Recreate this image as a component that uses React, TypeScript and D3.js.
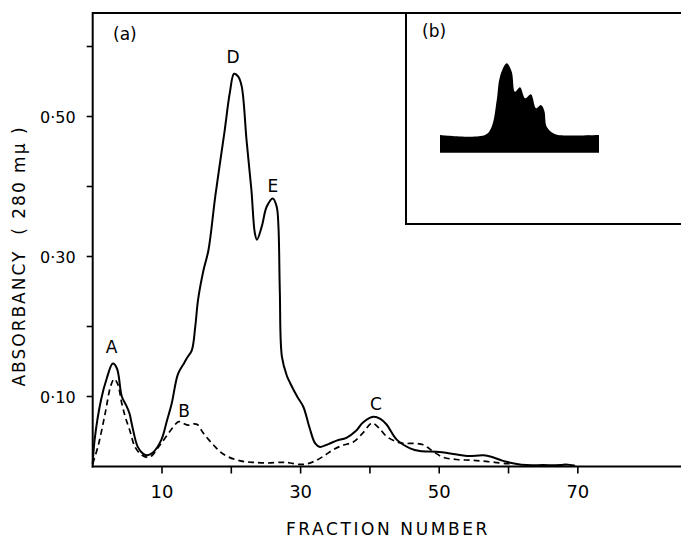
import React from 'react';
import * as d3 from 'd3';

// Main chart: fraction number vs absorbance (280 mμ)
const solidFraction = [0, 0.3, 1.2, 2.0, 2.9, 3.5, 4.2, 4.8, 5.3, 5.7, 6.5, 7.3, 7.9, 8.7, 9.9, 10.7, 11.4, 12.3, 13.2, 13.6, 14.3, 14.8, 15.2, 16.0, 16.7, 17.7, 19.0, 19.8, 20.4, 21.0, 21.5, 22.2, 22.9, 23.4, 23.7, 24.4, 25.1, 26.0, 26.55, 26.8, 27.0, 27.3, 28.0, 28.5, 29.5, 30.4, 31.3, 32.1, 32.8, 34.0, 35.2, 36.6, 38.0, 39.0, 40.5, 41.5, 42.4, 43.9, 45.8, 47.2, 49.6, 52.0, 54.0, 56.4, 57.5, 59.2, 61.0, 62.6, 65.0, 67.5, 68.3, 69.6];
const solidAbsorbance = [0.003, 0.04, 0.095, 0.125, 0.147, 0.14, 0.10, 0.088, 0.076, 0.058, 0.028, 0.018, 0.016, 0.02, 0.038, 0.065, 0.09, 0.132, 0.148, 0.155, 0.166, 0.2, 0.238, 0.281, 0.309, 0.387, 0.477, 0.535, 0.561, 0.557, 0.543, 0.466, 0.395, 0.333, 0.324, 0.343, 0.371, 0.383, 0.371, 0.343, 0.25, 0.157, 0.13, 0.119, 0.1, 0.085, 0.055, 0.033, 0.028, 0.032, 0.037, 0.041, 0.051, 0.063, 0.071, 0.068, 0.06, 0.038, 0.026, 0.022, 0.021, 0.018, 0.015, 0.016, 0.014, 0.008, 0.004, 0.002, 0.002, 0.002, 0.003, 0.001];

const dashedFraction = [0, 0.8, 1.8, 2.6, 3.1, 3.6, 4.2, 4.7, 5.4, 6.1, 7.0, 8.0, 8.6, 9.5, 10.4, 11.5, 12.4, 13.0, 13.8, 14.6, 15.1, 15.8, 16.5, 17.5, 18.4, 19.5, 21.3, 23.0, 25.1, 27.5, 28.5, 29.9, 31.0, 32.3, 33.5, 34.7, 36.0, 37.6, 39.0, 40.3, 41.3, 42.4, 43.9, 45.0, 46.5, 47.7, 48.5, 49.2, 50.6, 52.5, 54.4, 56.0, 58.0, 59.7, 60.3];
const dashedAbsorbance = [0.004, 0.03, 0.076, 0.115, 0.125, 0.118, 0.09, 0.071, 0.05, 0.028, 0.017, 0.013, 0.016, 0.028, 0.04, 0.055, 0.064, 0.062, 0.059, 0.061, 0.06, 0.05, 0.041, 0.03, 0.021, 0.014, 0.008, 0.006, 0.005, 0.006, 0.005, 0.003, 0.004, 0.009, 0.016, 0.024, 0.03, 0.035, 0.048, 0.062, 0.055, 0.043, 0.035, 0.033, 0.033, 0.031, 0.026, 0.021, 0.013, 0.010, 0.009, 0.008, 0.006, 0.004, 0.004];

const xTicks = [10, 20, 30, 40, 50, 60, 70];
const xTickLabels = ['10', '', '30', '', '50', '', '70'];
const yTicks = [0.1, 0.2, 0.3, 0.4, 0.5, 0.6];
const yTickLabels = ['0·10', '', '0·30', '', '0·50', ''];

const peakNames = ['A', 'B', 'C', 'D', 'E'];
const peakFraction = [2.74, 13.2, 40.85, 20.25, 26.0];
const peakAbsorbance = [0.162, 0.071, 0.081, 0.576, 0.392];

// Inset (b): relative position and relative height of the scan profile
const insetPosition = [0, 28.3, 32.5, 35.7, 37.7, 41.9, 45.1, 47.2, 50.3, 53.6, 57.2, 60.4, 63.5, 65.6, 67.1, 71.3, 74.4, 100];
const insetHeight = [0.198, 0.198, 0.291, 0.589, 0.85, 1.0, 0.906, 0.682, 0.732, 0.608, 0.653, 0.497, 0.534, 0.47, 0.291, 0.217, 0.198, 0.198];

const W = 681;
const H = 540;
const FONT = 'DejaVu Sans, sans-serif';

export default function App() {
  const x = d3.scaleLinear().domain([0, 85]).range([92.7, 681.8]);
  const y = d3.scaleLinear().domain([0, 0.648]).range([466.5, 12.9]);

  const line = d3
    .line<[number, number]>()
    .x((d) => x(d[0]))
    .y((d) => y(d[1]))
    .curve(d3.curveCatmullRom.alpha(0.5));

  const solidPts = solidFraction.map((f, i) => [f, solidAbsorbance[i]] as [number, number]);
  const dashedPts = dashedFraction.map((f, i) => [f, dashedAbsorbance[i]] as [number, number]);

  const ix = d3.scaleLinear().domain([0, 100]).range([440, 599]);
  const iy = d3.scaleLinear().domain([0, 1]).range([152.7, 63.3]);
  const insetArea = d3
    .area<[number, number]>()
    .x((d) => ix(d[0]))
    .y0(iy(0))
    .y1((d) => iy(d[1]))
    .curve(d3.curveCatmullRom.alpha(0.5));
  const insetPts = insetPosition.map((p, i) => [p, insetHeight[i]] as [number, number]);

  const x0 = x(0);
  const y0 = y(0);
  const yTop = y(0.648);

  return (
    <svg
      width={W}
      height={H}
      viewBox={`0 0 ${W} ${H}`}
      style={{ position: 'absolute', left: 0, top: 0, background: '#fff' }}
    >
      <rect x={0} y={0} width={W} height={H} fill="#fff" />
      {/* frame */}
      <line x1={x0} y1={yTop} x2={W} y2={yTop} stroke="#000" strokeWidth={2} />
      <line x1={x0} y1={yTop - 1} x2={x0} y2={y0 + 1} stroke="#000" strokeWidth={2} />
      <line x1={x0 - 1} y1={y0} x2={W} y2={y0} stroke="#000" strokeWidth={2} />

      {/* y ticks */}
      {yTicks.map((t, i) => (
        <g key={'yt' + i}>
          <line x1={x0 - 6} x2={x0} y1={y(t)} y2={y(t)} stroke="#000" strokeWidth={1.6} />
          {yTickLabels[i] && (
            <text x={x0 - 17} y={y(t) + 6} textAnchor="end" fontFamily={FONT} fontSize={16} fill="#000">
              {yTickLabels[i]}
            </text>
          )}
        </g>
      ))}

      {/* x ticks */}
      {xTicks.map((t, i) => (
        <g key={'xt' + i}>
          <line x1={x(t)} x2={x(t)} y1={y0} y2={y0 + 7} stroke="#000" strokeWidth={1.6} />
          {xTickLabels[i] && (
            <text x={x(t)} y={498} textAnchor="middle" fontFamily={FONT} fontSize={18} fill="#000">
              {xTickLabels[i]}
            </text>
          )}
        </g>
      ))}

      {/* axis titles */}
      <text
        x={388}
        y={535}
        textAnchor="middle"
        fontFamily={FONT}
        fontSize={17}
        letterSpacing={2.6}
        fill="#000"
      >
        FRACTION NUMBER
      </text>
      <text
        transform={`translate(25, 256) rotate(-90)`}
        textAnchor="middle"
        fontFamily={FONT}
        fontSize={17}
        letterSpacing={2}
        fill="#000"
        style={{ whiteSpace: 'pre' }}
      >
        {'ABSORBANCY  ( 280 mμ )'}
      </text>

      {/* curves */}
      <path d={line(dashedPts) || ''} fill="none" stroke="#000" strokeWidth={1.7} strokeDasharray="6,4" />
      <path d={line(solidPts) || ''} fill="none" stroke="#000" strokeWidth={2} />

      {/* peak labels */}
      {peakNames.map((n, i) => (
        <text
          key={n}
          x={x(peakFraction[i])}
          y={y(peakAbsorbance[i])}
          textAnchor="middle"
          fontFamily={FONT}
          fontSize={17}
          fill="#000"
        >
          {n}
        </text>
      ))}

      <text x={113} y={40} fontFamily={FONT} fontSize={17} fill="#000">(a)</text>

      {/* inset (b) */}
      <line x1={406} y1={yTop} x2={406} y2={224} stroke="#000" strokeWidth={2} />
      <line x1={405} y1={224} x2={W} y2={224} stroke="#000" strokeWidth={2} />
      <text x={422} y={37} fontFamily={FONT} fontSize={17} fill="#000">(b)</text>
      <path d={insetArea(insetPts) || ''} fill="#000" stroke="none" />
    </svg>
  );
}
